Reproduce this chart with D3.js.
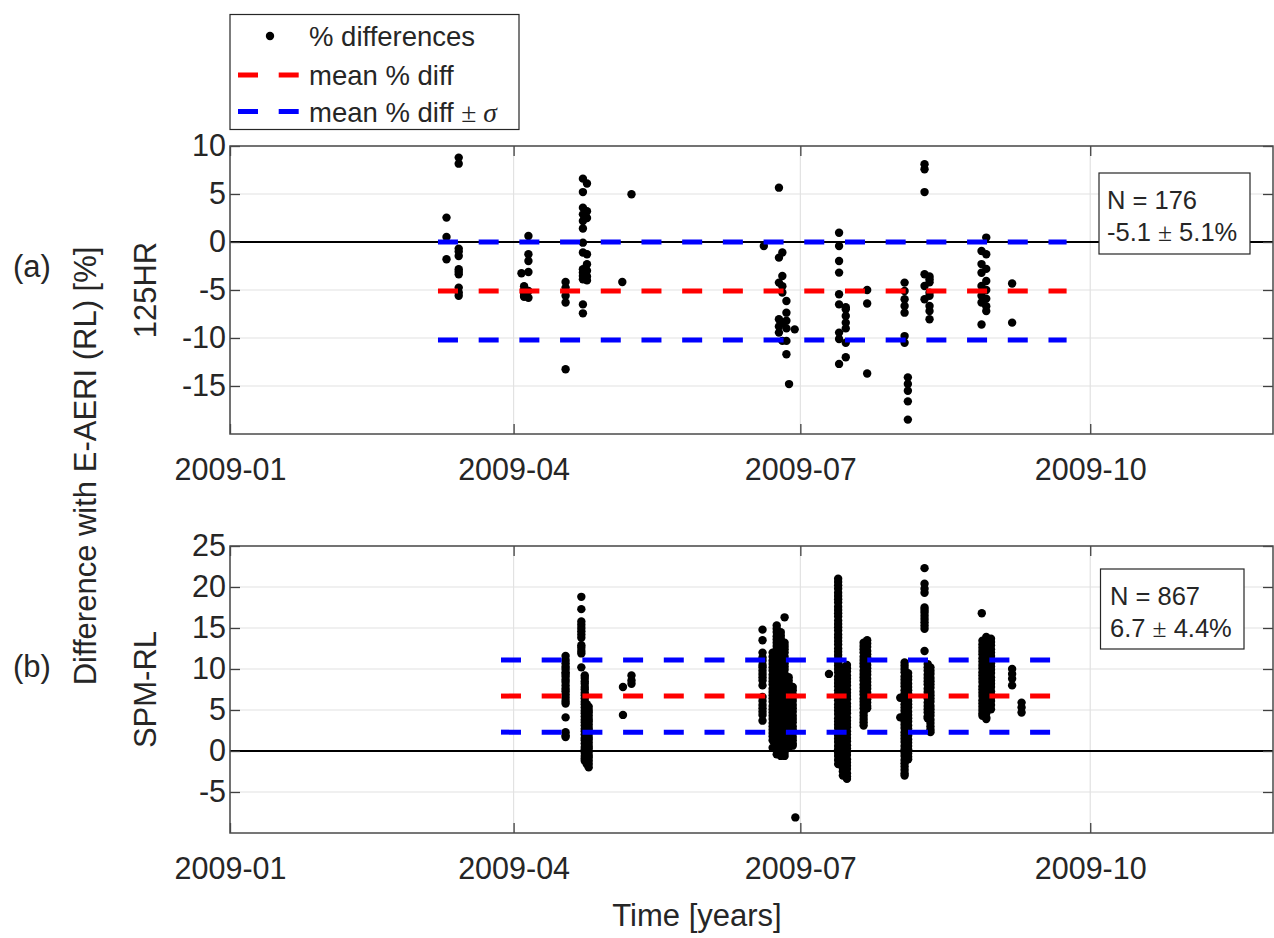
<!DOCTYPE html>
<html><head><meta charset="utf-8">
<script src="https://cdn.jsdelivr.net/npm/d3@7"></script>
<style>
body{margin:0;background:#fff}
svg{display:block}
text{font-family:"Liberation Sans",Arial,Helvetica,sans-serif;fill:#262626}
</style>
</head><body>
<svg id="c" width="1274" height="938"></svg>
<script>
// ---------------- data ----------------
const xTickLabels = ["2009-01", "2009-04", "2009-07", "2009-10"];
const xDomain = ["2009-01-01", "2009-11-28"];
const yTicksA = [10, 5, 0, -5, -10, -15];
const yTicksB = [25, 20, 15, 10, 5, 0, -5];
const yDomainA = [-20, 10];
const yDomainB = [-10, 25];

// panel (a) 125HR : date of each column, values of that column
const datesA = [
  "2009-03-10T17:00","2009-03-14T14:00","2009-04-03T12:00","2009-04-04T08:00","2009-04-05T17:00",
  "2009-04-17T12:00","2009-04-23T00:00","2009-04-24T07:00","2009-05-05T12:00","2009-05-08T10:00",
  "2009-06-19T10:00","2009-06-24T05:00","2009-06-25T07:00","2009-06-26T14:00","2009-06-27T10:00",
  "2009-06-29T05:00","2009-07-13T07:00","2009-07-15T10:00","2009-07-22T05:00","2009-08-03T02:00",
  "2009-08-04T03:00","2009-08-09T10:00","2009-08-11T00:00","2009-08-27T12:00","2009-08-29T00:00",
  "2009-09-06T05:00"
];
const valuesA = [
  [2.54, 0.52, -1.8],
  [8.79, 8.16, -0.69, -1.0, -1.46, -2.84, -3.1, -3.36, -4.75, -5.27, -5.6],
  [-3.26],
  [-4.6, -5.0, -5.3, -5.6, -5.7],
  [0.63, -1.28, -1.98, -3.12, -5.1, -5.8],
  [-4.16, -4.75, -5.6, -6.3, -13.26],
  [6.6, 5.2, 3.58, 2.88, 2.19, 1.4, -0.07, -1.1, -2.84, -3.19, -3.54, -3.89, -6.5, -7.43],
  [6.1, 3.2, 2.5, -1.28, -2.32, -3.0, -3.6, -4.0],
  [-4.16],
  [4.97],
  [-0.41],
  [5.66, -1.63, -4.23, -8.05, -8.8, -9.44],
  [-1.1, -3.54, -4.6, -5.27, -8.4, -10.3],
  [-6.14, -7.36, -8.2, -9.0, -10.3, -11.7],
  [-14.8],
  [-9.1],
  [0.97, -0.41, -1.98, -3.19, -5.45, -6.5, -9.44, -10.1, -12.7],
  [-6.8, -7.0, -7.7, -8.4, -9.0, -10.5, -12.0],
  [-5.0, -6.4, -13.7],
  [-4.23, -5.1, -5.97, -6.66, -7.36, -9.8, -10.5],
  [-14.1, -14.8, -15.5, -16.6, -18.5],
  [8.1, 7.57, 5.2, -3.36, -4.58, -5.97],
  [-3.6, -3.89, -4.2, -5.27, -5.6, -6.66, -7.2, -8.05],
  [-0.93, -2.3, -3.2, -4.58, -5.6, -6.3, -8.6],
  [0.46, -1.28, -2.8, -4.06, -5.0, -5.9, -6.7, -7.2],
  [-4.33, -8.4]
];

// panel (b) SPM-RL
const datesB = [
  "2009-04-17T12:00","2009-04-22T12:00","2009-04-23T14:00","2009-04-24T05:00","2009-04-24T20:00",
  "2009-05-05T17:00","2009-05-08T10:00","2009-06-19T00:00","2009-06-22T05:00","2009-06-23T12:00",
  "2009-06-24T19:00","2009-06-26T00:00","2009-06-27T07:00","2009-06-28T14:00","2009-06-29T10:00",
  "2009-07-10T02:00","2009-07-13T00:00","2009-07-14T12:00","2009-07-15T19:00","2009-07-21T02:00",
  "2009-07-22T05:00","2009-08-01T17:00","2009-08-03T02:00","2009-08-04T05:00","2009-08-09T10:00",
  "2009-08-10T10:00","2009-08-11T07:00","2009-08-27T14:00","2009-08-27T19:00","2009-08-29T00:00",
  "2009-08-30T12:00","2009-09-06T05:00","2009-09-09T05:00"
];
const valuesB = [
  [11.6, 11.1, 10.7, 10.3, 10.0, 9.6, 9.4, 9.1, 8.7, 8.4, 8.0, 7.6, 7.3, 6.9, 6.5, 6.1, 5.8, 4.1, 2.3, 1.9, 1.7],
  [18.8, 17.3, 15.8, 15.4, 15.0, 14.6, 14.2, 13.8, 12.9, 12.6, 12.2, 11.9, 10.2],
  [9.2, 8.9, 8.5, 8.2, 7.8, 7.5, 7.1, 6.8, 6.4, 6.0, 5.7, 5.3, 4.9, 4.6, 4.2, 3.8, 3.5, 3.1, 2.7, 2.4, 2.0, 1.6, 1.3, 0.9, 0.5, 0.2, -0.2, -0.6, -0.9, -1.2],
  [5.7, 5.3, 5.0, 4.6, 4.2, 3.9, 3.5, 3.1, 2.8, 2.4, 2.0, 1.7, 1.3, 0.9, 0.6, 0.2, -0.2, -0.5, -0.9, -1.3, -1.6],
  [5.4, 5.0, 4.7, 4.3, 3.9, 3.6, 3.2, 2.8, 2.5, 2.1, 1.7, 1.4, 1.0, 0.6, 0.3, -0.1, -0.5, -0.8, -1.2, -1.6, -2.0],
  [7.8, 4.4],
  [9.2, 8.6, 8.2],
  [14.8, 13.5, 12.0, 11.4, 11.0, 10.5, 10.2, 9.8, 9.4, 9.0, 8.6, 8.0, 6.6, 6.1, 5.6, 5.2, 4.8, 4.4, 3.7],
  [12.0, 11.5, 11.0, 10.6, 10.2, 9.8, 9.3, 8.9, 8.5, 8.1, 7.6, 7.2, 6.8, 6.4, 6.0, 5.5, 5.1, 4.7, 4.3, 3.9, 3.4, 3.0, 2.6, 2.2, 1.8, 1.3, 0.4],
  [15.3, 14.9, 14.5, 14.0, 13.6, 13.2, 12.8, 12.4, 11.9, 11.5, 11.1, 10.7, 10.3, 9.8, 9.4, 9.0, 8.6, 8.2, 7.7, 7.3, 6.9, 6.5, 6.1, 5.6, 5.2, 4.8, 4.4, 4.0, 3.5, 3.1, 2.7, 2.3, 1.9, 1.4, 1.0, 0.6, 0.2, -0.4],
  [14.5, 14.1, 13.7, 13.3, 12.9, 12.4, 12.0, 11.6, 11.2, 10.8, 10.4, 9.9, 9.5, 9.1, 8.7, 8.3, 7.8, 7.4, 7.0, 6.6, 6.2, 5.7, 5.3, 4.9, 4.5, 4.1, 3.6, 3.2, 2.8, 2.4, 2.0, 1.5, 1.1, 0.7, 0.3, -0.1, -0.6],
  [16.3, 13.2, 12.8, 12.4, 12.0, 11.5, 11.1, 10.7, 10.3, 9.9, 9.4, 9.0, 8.6, 8.2, 7.8, 7.3, 6.9, 6.5, 6.1, 5.7, 5.2, 4.8, 4.4, 4.0, 3.6, 3.1, 2.7, 2.3, 1.9, 1.5, 1.0, 0.6, 0.2, -0.2, -0.6],
  [9.0, 8.6, 8.2, 7.8, 7.3, 6.9, 6.5, 6.1, 5.7, 5.3, 4.9, 4.4, 4.0, 3.6, 3.2, 2.8, 2.4, 1.9, 1.5, 1.1, 0.7, 0.4],
  [7.8, 7.4, 6.9, 6.5, 6.1, 5.6, 5.2, 4.8, 4.3, 3.9, 3.5, 3.0, 2.6, 2.2, 1.7, 1.3, 0.9, 0.65],
  [-8.1],
  [9.4],
  [21.0, 20.6, 20.2, 19.8, 19.3, 18.9, 18.5, 18.1, 17.6, 17.2, 16.8, 16.4, 15.9, 15.5, 15.1, 14.7, 14.2, 13.8, 13.4, 13.0, 12.5, 12.1, 11.7, 11.3, 10.8, 10.4, 10.0, 9.6, 9.1, 8.7, 8.3, 7.9, 7.4, 7.0, 6.6, 6.2, 5.7, 5.3, 4.9, 4.5, 4.0, 3.6, 3.2, 2.8, 2.3, 1.9, 1.5, 1.1, 0.6, 0.2, -0.2, -0.6, -1.1, -1.6],
  [10.2, 9.8, 9.4, 8.9, 8.5, 8.1, 7.7, 7.2, 6.8, 6.4, 6.0, 5.5, 5.1, 4.7, 4.3, 3.8, 3.4, 3.0, 2.6, 2.1, 1.7, 1.3, 0.9, 0.4, 0.0, -0.4, -0.8, -1.3, -1.7, -2.1, -2.5, -3.0],
  [10.5, 10.1, 9.7, 9.2, 8.8, 8.4, 8.0, 7.5, 7.1, 6.7, 6.3, 5.8, 5.4, 5.0, 4.6, 4.1, 3.7, 3.3, 2.9, 2.4, 2.0, 1.6, 1.2, 0.7, 0.3, -0.1, -0.5, -1.0, -1.4, -1.8, -2.2, -2.7, -3.1, -3.4],
  [13.2, 12.8, 12.4, 12.0, 11.5, 11.1, 10.7, 10.3, 9.8, 9.4, 9.0, 8.6, 8.1, 7.7, 7.3, 6.9, 6.4, 6.0, 5.6, 5.2, 4.7, 4.3, 3.9, 3.5, 3.1],
  [13.5, 13.1, 12.7, 12.2, 11.8, 11.4, 11.0, 10.5, 10.1, 9.7, 9.3, 8.8, 8.4, 8.0, 7.6, 7.1, 6.7, 6.3, 5.9, 5.5, 5.2],
  [6.5, 4.1],
  [10.8, 10.4, 10.0, 9.6, 9.1, 8.7, 8.3, 7.9, 7.4, 7.0, 6.6, 6.2, 5.7, 5.3, 4.9, 4.5, 4.0, 3.6, 3.2, 2.8, 2.3, 1.9, 1.5, 1.1, 0.6, 0.2, -0.2, -0.6, -1.1, -1.5, -1.9, -2.3, -2.7, -3.0],
  [9.5, 9.1, 8.7, 8.2, 7.8, 7.4, 7.0, 6.5, 6.1, 5.7, 5.3, 4.8, 4.4, 4.0, 3.6, 3.1, 2.7, 2.3, 1.9, 1.4, 1.0, 0.6, 0.2, -0.3, -0.7, -1.0],
  [22.3, 20.4, 19.8, 19.3, 17.5, 17.2, 16.9, 16.5, 16.1, 15.7, 15.3, 14.9, 12.2],
  [10.6, 10.2, 9.8, 9.3, 8.9, 8.5, 8.1, 7.6, 7.2, 6.8, 6.4, 5.9, 5.5, 5.1, 4.7, 4.2, 4.0],
  [10.2, 9.8, 9.4, 8.9, 8.5, 8.1, 7.7, 7.2, 6.8, 6.4, 6.0, 5.5, 5.1, 4.7, 4.3, 3.8, 3.4, 3.0, 2.6, 2.3],
  [16.8],
  [13.45, 13.0, 12.6, 12.2, 11.8, 11.3, 10.9, 10.5, 10.1, 9.6, 9.2, 8.8, 8.4, 7.9, 7.5, 7.1, 6.7, 6.2, 5.8, 5.4, 5.0, 4.6, 4.3],
  [13.9, 13.5, 13.1, 12.6, 12.2, 11.8, 11.4, 10.9, 10.5, 10.1, 9.7, 9.2, 8.8, 8.4, 8.0, 7.5, 7.1, 6.7, 6.3, 5.8, 5.4, 5.0, 4.6, 4.1, 3.9],
  [13.7, 13.3, 12.9, 12.4, 12.0, 11.6, 11.2, 10.7, 10.3, 9.9, 9.5, 9.0, 8.6, 8.2, 7.8, 7.3, 6.9, 6.5, 6.1, 5.6, 5.1],
  [10.0, 9.4, 8.8, 8.0],
  [5.9, 5.3, 4.7]
];

// summary statistics and the period covered by the mean lines
const panelNames = ["125HR", "SPM-RL"];
const panelTags = ["(a)", "(b)"];
const nPoints = [176, 867];
const meanDiff = [-5.1, 6.7];
const sdDiff = [5.1, 4.4];
const lineSpanA = ["2009-03-08T00:00", "2009-09-23T12:00"];
const lineSpanB = ["2009-03-28T00:00", "2009-09-18T12:00"];
const legendLabels = ["% differences", "mean % diff", "mean % diff "];

// ---------------- drawing ----------------
const svg = d3.select("#c");
const parseT = d3.utcParse("%Y-%m-%dT%H:%M");
const parseD = d3.utcParse("%Y-%m-%d");
const parseM = d3.utcParse("%Y-%m");
const L = 230, R = 1273;
const x = d3.scaleUtc().domain(xDomain.map(parseD)).range([L, R]);
const tickDates = xTickLabels.map(parseM);
const AX = "#262626", GRID = "#e2e2e2";
const DOT_R = 4.2;

function drawPanel(p) {
  const y = d3.scaleLinear().domain(p.yDomain).range([p.bottom, p.top]);
  const g = svg.append("g");
  // grid
  g.selectAll(".gy").data(p.yTicks).join("line")
    .attr("x1", L).attr("x2", R).attr("y1", d => y(d)).attr("y2", d => y(d))
    .attr("stroke", GRID).attr("stroke-width", 1.2);
  g.selectAll(".gx").data(tickDates).join("line")
    .attr("x1", d => x(d)).attr("x2", d => x(d)).attr("y1", p.top).attr("y2", p.bottom)
    .attr("stroke", GRID).attr("stroke-width", 1.2);
  // zero line
  g.append("line").attr("x1", L).attr("x2", R).attr("y1", y(0)).attr("y2", y(0))
    .attr("stroke", "#000").attr("stroke-width", 2);
  // points
  const pts = [];
  p.dates.forEach((d, i) => p.values[i].forEach(v => pts.push({t: parseT(d), v})));
  g.selectAll("circle.pt").data(pts).join("circle")
    .attr("cx", d => x(d.t)).attr("cy", d => y(d.v)).attr("r", DOT_R).attr("fill", "#000");
  // mean and mean ± sd lines
  const span = p.span.map(parseT);
  const lines = [
    {v: p.mean + p.sd, c: "#0000ff"},
    {v: p.mean - p.sd, c: "#0000ff"},
    {v: p.mean, c: "#ff0000"}
  ];
  g.selectAll("line.mean").data(lines).join("line")
    .attr("x1", x(span[0])).attr("x2", x(span[1]))
    .attr("y1", d => y(d.v)).attr("y2", d => y(d.v))
    .attr("stroke", d => d.c).attr("stroke-width", 5).attr("stroke-dasharray", "20 20.7");
  // axes
  const bottom = d3.axisBottom(x).tickValues(tickDates).tickFormat((d, i) => xTickLabels[i])
    .tickSizeInner(-10).tickSizeOuter(0).tickPadding(24);
  const gb = g.append("g").attr("transform", `translate(0,${p.bottom})`).call(bottom);
  const gt = g.append("g").attr("transform", `translate(0,${p.top})`)
    .call(d3.axisTop(x).tickValues(tickDates).tickFormat("").tickSizeInner(-10).tickSizeOuter(0));
  const gl = g.append("g").attr("transform", `translate(${L},0)`)
    .call(d3.axisLeft(y).tickValues(p.yTicks).tickFormat(d => d).tickSizeInner(-10).tickSizeOuter(0).tickPadding(4));
  const gr = g.append("g").attr("transform", `translate(${R},0)`)
    .call(d3.axisRight(y).tickValues(p.yTicks).tickFormat("").tickSizeInner(-10).tickSizeOuter(0));
  [gb, gt, gl, gr].forEach(a => {
    a.select(".domain").remove();
    a.selectAll(".tick line").attr("stroke", "#404040").attr("stroke-width", 1.3);
    a.selectAll("text").attr("font-size", 30.5).attr("fill", AX)
      .attr("font-family", '"Liberation Sans", Arial, sans-serif');
  });
  // box
  g.append("rect").attr("x", L).attr("y", p.top).attr("width", R - L).attr("height", p.bottom - p.top)
    .attr("fill", "none").attr("stroke", "#4a4a4a").attr("stroke-width", 1.5);
  // y label (panel name) and tag
  g.append("text").attr("transform", `translate(156,${(p.top + p.bottom) / 2}) rotate(-90)`)
    .attr("text-anchor", "middle").attr("font-size", 31).text(p.name);
  g.append("text").attr("x", 13).attr("y", p.tagY).attr("font-size", 31).text(p.tag);
  // stats box
  const b = p.box;
  g.append("rect").attr("x", b.x).attr("y", b.y).attr("width", b.w).attr("height", b.h)
    .attr("fill", "#fff").attr("stroke", "#262626").attr("stroke-width", 1.2);
  g.append("text").attr("x", b.tx).attr("y", b.y + 36).attr("font-size", 25.5)
    .text(`N = ${p.n}`);
  const t2 = g.append("text").attr("x", b.tx).attr("y", b.y + 68).attr("font-size", 25.5);
  t2.append("tspan").text(`${p.mean.toFixed(1)} `);
  t2.append("tspan").attr("font-family", '"Liberation Serif", serif').text("±");
  t2.append("tspan").text(` ${p.sd.toFixed(1)}%`);
}

drawPanel({top: 146, bottom: 434, yDomain: yDomainA, yTicks: yTicksA, dates: datesA, values: valuesA,
  mean: meanDiff[0], sd: sdDiff[0], n: nPoints[0], span: lineSpanA, name: panelNames[0], tag: panelTags[0],
  tagY: 277, box: {x: 1099, y: 173, w: 151, h: 81, tx: 1107}});
drawPanel({top: 546, bottom: 833, yDomain: yDomainB, yTicks: yTicksB, dates: datesB, values: valuesB,
  mean: meanDiff[1], sd: sdDiff[1], n: nPoints[1], span: lineSpanB, name: panelNames[1], tag: panelTags[1],
  tagY: 677, box: {x: 1100.5, y: 569, w: 143.5, h: 80, tx: 1110}});

// common labels
svg.append("text").attr("transform", "translate(96,466) rotate(-90)").attr("text-anchor", "middle")
  .attr("font-size", 31).text("Difference with E-AERI (RL) [%]");
svg.append("text").attr("x", 697).attr("y", 926).attr("text-anchor", "middle")
  .attr("font-size", 31).text("Time [years]");

// legend
const lg = svg.append("g");
lg.append("rect").attr("x", 230).attr("y", 14.5).attr("width", 289).attr("height", 115)
  .attr("fill", "#fff").attr("stroke", "#262626").attr("stroke-width", 1.2);
const rowsY = [36, 75, 111.5];
lg.append("circle").attr("cx", 270).attr("cy", rowsY[0]).attr("r", DOT_R).attr("fill", "#000");
[["#ff0000", rowsY[1]], ["#0000ff", rowsY[2]]].forEach(([c, yy]) => {
  lg.append("line").attr("x1", 238).attr("x2", 299).attr("y1", yy).attr("y2", yy)
    .attr("stroke", c).attr("stroke-width", 5).attr("stroke-dasharray", "20 20.7");
});
legendLabels.forEach((s, i) => {
  const t = lg.append("text").attr("x", 309).attr("y", rowsY[i] + 10).attr("font-size", 27.5).text(s);
  if (i === 2) {
    t.append("tspan").attr("font-family", '"Liberation Serif", serif').text("± ");
    t.append("tspan").attr("font-family", '"Liberation Serif", serif').attr("font-style", "italic").text("σ");
  }
});
</script>
</body></html>
